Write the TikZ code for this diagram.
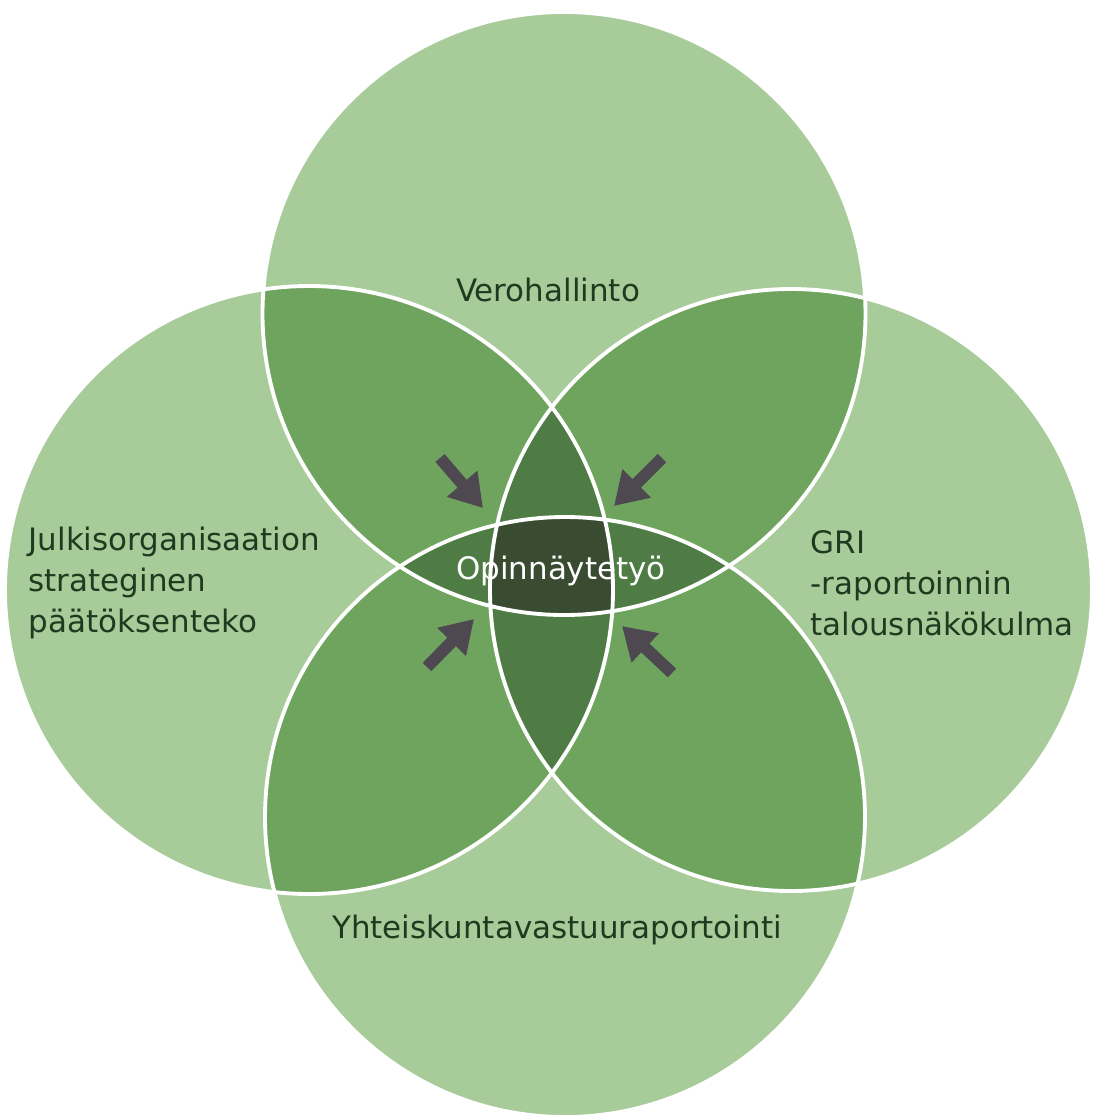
\documentclass[tikz,border=0pt]{standalone}
\usepackage{fontspec}
\setmainfont{DejaVu Sans}
\usetikzlibrary{arrows.meta}
\definecolor{cLight}{HTML}{A8CB9A}
\definecolor{cMed}{HTML}{6FA45F}
\definecolor{cDark}{HTML}{4E7C44}
\definecolor{cCore}{HTML}{394C31}
\definecolor{cText}{HTML}{1F3A1F}
\definecolor{cArrow}{HTML}{4E4851}
\def\cTop{(564,-313.5) circle[radius=301.5]}
\def\cBot{(565,-817) circle[radius=300]}
\def\cLeft{(309,-590) circle[radius=304]}
\def\cRight{(791,-590) circle[radius=301]}
\begin{document}
\begin{tikzpicture}[x=0.01cm,y=0.01cm,
  lbl/.style={font=\fontsize{8.8}{11.66}\selectfont, text=cText, inner sep=0pt},
  pointer/.style={draw=cArrow, line width=0.12cm,
    -{Triangle[length=0.32cm,width=0.38cm]}},
  outline/.style={draw=white, line width=1.1pt}]
\useasboundingbox (0,0) rectangle (1094,-1120);
% single circles
\fill[cLight] \cTop; \fill[cLight] \cBot; \fill[cLight] \cLeft; \fill[cLight] \cRight;
% pairwise overlaps
\begin{scope}\clip \cTop; \fill[cMed] \cLeft; \fill[cMed] \cRight; \fill[cMed] \cBot;\end{scope}
\begin{scope}\clip \cBot; \fill[cMed] \cLeft; \fill[cMed] \cRight;\end{scope}
\begin{scope}\clip \cLeft; \fill[cMed] \cRight;\end{scope}
% triple overlaps
\begin{scope}\clip \cLeft; \clip \cRight; \fill[cDark] \cTop; \fill[cDark] \cBot;\end{scope}
\begin{scope}\clip \cTop; \clip \cBot; \fill[cDark] \cLeft; \fill[cDark] \cRight;\end{scope}
% core
\begin{scope}\clip \cTop; \clip \cBot; \clip \cLeft; \fill[cCore] \cRight;\end{scope}
% outlines
\draw[outline] \cTop; \draw[outline] \cBot; \draw[outline] \cLeft; \draw[outline] \cRight;
% labels
\node[lbl] (vero) at (548,-290) {Verohallinto};
\node[lbl] (yht) at (557,-930) {Yhteiskuntavastuuraportointi};
\node[lbl, anchor=west, align=left] (julk) at (28,-583) {Julkisorganisaation\\strateginen\\päätöksenteko};
\node[lbl, anchor=west, align=left] (gri) at (810,-583) {GRI\\-raportoinnin\\talousnäkökulma};
\node[lbl, text=white] (opin) at (561,-571) {Opinnäytetyö};
% arrows
\coordinate (a1s) at (440,-458); \coordinate (a1e) at (483,-508);
\coordinate (a2s) at (662,-458); \coordinate (a2e) at (614,-506);
\coordinate (a3s) at (427,-667); \coordinate (a3e) at (474,-619);
\coordinate (a4s) at (672,-673); \coordinate (a4e) at (622,-626);
\draw[pointer] (a1s) -- (a1e);
\draw[pointer] (a2s) -- (a2e);
\draw[pointer] (a3s) -- (a3e);
\draw[pointer] (a4s) -- (a4e);
\end{tikzpicture}
\end{document}
